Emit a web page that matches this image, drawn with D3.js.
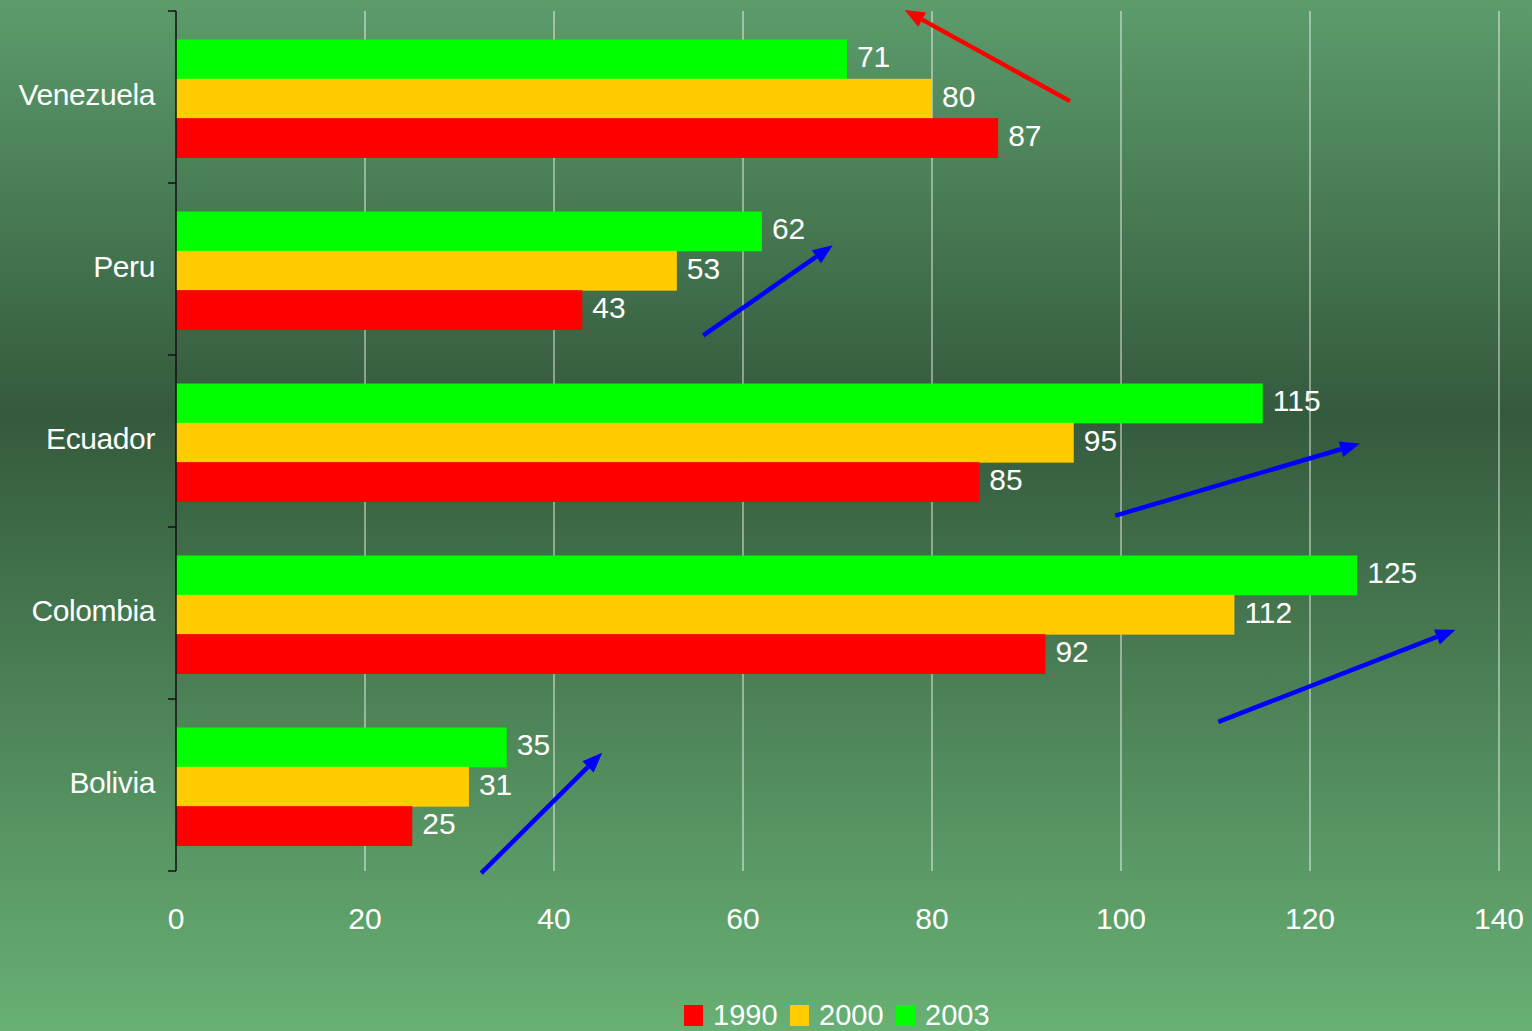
<!DOCTYPE html>
<html><head><meta charset="utf-8">
<script src="https://cdn.jsdelivr.net/npm/d3@7"></script>
<style>html,body{margin:0;padding:0;overflow:hidden;}svg{display:block;}</style>
</head><body>
<script>
const categories = ["Venezuela","Peru","Ecuador","Colombia","Bolivia"];
const years = ["1990","2000","2003"];
const values1990 = [87,43,85,92,25];
const values2000 = [80,53,95,112,31];
const values2003 = [71,62,115,125,35];
const xTicks = [0,20,40,60,80,100,120,140];
const colors = {"1990":"#ff0000","2000":"#ffcc00","2003":"#00ff00"};
// trend arrows: [x1 value, y1 band-position, x2 value, y2 band-position, color]
const arrows = [
  [94.6,0.524,77.1,-0.006,"#ff0000"],
  [55.8,1.886,69.5,1.362,"#0000ff"],
  [99.4,2.934,125.3,2.515,"#0000ff"],
  [110.3,4.133,135.4,3.597,"#0000ff"],
  [32.3,5.012,45.1,4.313,"#0000ff"]
];

(function(){
const W=1532,H=1031;
const svg=d3.select("body").append("svg").attr("width",W).attr("height",H);
const defs=svg.append("defs");
const bg=defs.append("linearGradient").attr("id","bg").attr("x1",0).attr("y1",0).attr("x2",0).attr("y2",1);
bg.append("stop").attr("offset","0%").attr("stop-color","#5c9c6b");
bg.append("stop").attr("offset","40%").attr("stop-color","#345a3d");
bg.append("stop").attr("offset","100%").attr("stop-color","#68b074");
svg.append("rect").attr("width",W).attr("height",H).attr("fill","url(#bg)");

const pL=176,pR=1499,pT=11,pB=871;
const x=d3.scaleLinear().domain([0,140]).range([pL,pR]);
const yb=d3.scaleBand().domain(categories).range([pT+1.5,pB+1.5]).paddingInner(0.314).paddingOuter(0.157);
const ypos=d3.scaleLinear().domain([0,5]).range([pT,pB]);
const series=[["2003",values2003],["2000",values2000],["1990",values1990]];
const ys=d3.scaleBand().domain(series.map(s=>s[0])).range([0,yb.bandwidth()]);

const font="'Liberation Sans', Arial, sans-serif";
// grid
svg.append("g").selectAll("line").data(xTicks.filter(d=>d>0)).join("line")
  .attr("x1",d=>x(d)).attr("x2",d=>x(d)).attr("y1",pT).attr("y2",pB)
  .attr("stroke","#ffffff").attr("stroke-opacity",0.85).attr("stroke-width",1);

// bars
series.forEach(([yr,vals])=>{
  const g=svg.append("g");
  g.selectAll("rect").data(categories).join("rect")
    .attr("x",x(0)).attr("y",(c)=>yb(c)+ys(yr))
    .attr("width",(c,i)=>x(vals[i])-x(0)).attr("height",ys.bandwidth()+0.5)
    .attr("fill",colors[yr]);
  g.selectAll("text").data(categories).join("text")
    .attr("x",(c,i)=>x(vals[i])+10).attr("y",(c)=>yb(c)+ys(yr)+ys.bandwidth()/2+8)
    .attr("fill","#ffffff").attr("font-family",font).attr("font-size",30)
    .text((c,i)=>vals[i]);
});

// y axis
const ax=svg.append("g");
ax.append("line").attr("x1",pL).attr("x2",pL).attr("y1",pT).attr("y2",pB).attr("stroke","#111").attr("stroke-width",1.5);
ax.selectAll("line.t").data(d3.range(6)).join("line").attr("class","t")
  .attr("x1",pL-8).attr("x2",pL).attr("y1",d=>ypos(d)).attr("y2",d=>ypos(d)).attr("stroke","#111").attr("stroke-width",1.5);
ax.selectAll("text").data(categories).join("text")
  .attr("x",155).attr("y",c=>yb(c)+yb.bandwidth()/2+6).attr("text-anchor","end")
  .attr("letter-spacing",-0.4)
  .attr("fill","#fff").attr("font-family",font).attr("font-size",30).text(c=>c);

// x tick labels
svg.append("g").selectAll("text").data(xTicks).join("text")
  .attr("x",d=>x(d)).attr("y",929).attr("text-anchor","middle")
  .attr("fill","#fff").attr("font-family",font).attr("font-size",30).text(d=>d);

// arrows
arrows.forEach(([a,b,c,d,col])=>{
  const x1=x(a),y1=ypos(b),x2=x(c),y2=ypos(d);
  const ang=Math.atan2(y2-y1,x2-x1);
  const L=20,Wd=8;
  const bx=x2-L*Math.cos(ang),by=y2-L*Math.sin(ang);
  svg.append("line").attr("x1",x1).attr("y1",y1).attr("x2",bx).attr("y2",by)
    .attr("stroke",col).attr("stroke-width",4.5);
  const p=[[x2,y2],[bx+Wd*Math.sin(ang),by-Wd*Math.cos(ang)],[bx-Wd*Math.sin(ang),by+Wd*Math.cos(ang)]];
  svg.append("path").attr("d","M"+p.map(q=>q.join(",")).join("L")+"Z").attr("fill",col);
});

// legend
const lg=svg.append("g");
const legX=[684,790,896];
years.forEach((yr,i)=>{
  lg.append("rect").attr("x",legX[i]).attr("y",1005).attr("width",19).attr("height",21).attr("fill",colors[yr]);
  lg.append("text").attr("x",legX[i]+29).attr("y",1025).attr("fill","#fff")
    .attr("font-family",font).attr("font-size",29).text(yr);
});
})();
</script>
</body></html>
